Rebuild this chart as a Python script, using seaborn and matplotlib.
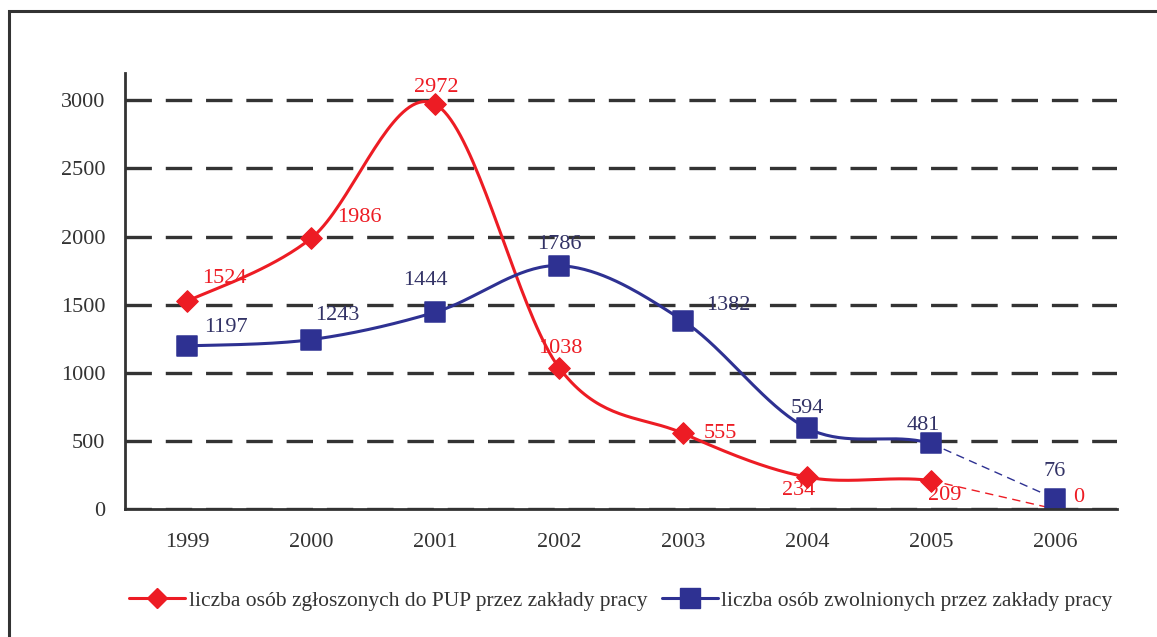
import matplotlib
matplotlib.use('Agg')
import matplotlib.pyplot as plt
from matplotlib.lines import Line2D
from matplotlib.patches import Rectangle
import seaborn as sns
import numpy as np

years = ['1999', '2000', '2001', '2002', '2003', '2004', '2005', '2006']
zgloszeni = [1524, 1986, 2972, 1038, 555, 234, 209, 0]
zwolnieni = [1197, 1243, 1444, 1786, 1382, 594, 481, 76]

label_zgl = 'liczba osób zgłoszonych do PUP przez zakłady pracy'
label_zwo = 'liczba osób zwolnionych przez zakłady pracy'

# label offsets in pixels (dx, dy) relative to each point
off_zgl = [(37, 23), (48, 21), (1, 17), (1, 19), (37, 0), (-8, -13), (14, -15), (24, 11)]
off_zwo = [(39, 18), (26, 24), (-10, 32), (0, 21), (45, 15), (0, 20), (-8, 18), (0, 27)]

RED = '#ED1C24'
BLUE = '#2E3192'
BLUE_TXT = '#333366'
DARK = '#333333'
FS = 16


def smooth(y, n=40):
    """Excel-like smoothed curve (Catmull-Rom style bezier)"""
    x = np.arange(len(y), dtype=float)
    y = np.asarray(y, dtype=float)
    xs, ys = [], []
    for i in range(len(y) - 1):
        i0 = max(i - 1, 0)
        i3 = min(i + 2, len(y) - 1)
        p0 = np.array([x[i], y[i]])
        p3 = np.array([x[i + 1], y[i + 1]])
        c1 = p0 + (np.array([x[i + 1], y[i + 1]]) - np.array([x[i0], y[i0]])) / 6
        c2 = p3 - (np.array([x[i3], y[i3]]) - np.array([x[i], y[i]])) / 6
        t = np.linspace(0, 1, n)[:, None]
        pts = (1 - t) ** 3 * p0 + 3 * (1 - t) ** 2 * t * c1 + 3 * (1 - t) * t ** 2 * c2 + t ** 3 * p3
        xs.append(pts[:, 0])
        ys.append(pts[:, 1])
    return np.concatenate(xs), np.concatenate(ys)


sns.set_style('white')
plt.rcParams['font.family'] = ['Liberation Serif', 'DejaVu Serif']
plt.rcParams['lines.scale_dashes'] = False

fig = plt.figure(figsize=(11.57, 6.37), dpi=100)
ax = fig.add_axes([125 / 1157, 1 - 509 / 637, (1117 - 125) / 1157, (509 - 73) / 637])

# outer frame
fig.patches.append(Rectangle((9 / 1157, -0.1), 1.2, 1.1 - 11 / 637, transform=fig.transFigure,
                             fill=False, edgecolor=DARK, linewidth=2.2, zorder=0))

xpos = np.arange(len(years))

# smoothed solid part (1999-2005), dashed last segment (2005-2006)
for vals, col in [(zgloszeni, RED), (zwolnieni, BLUE)]:
    sx, sy = smooth(vals)
    mask = sx <= 6 + 1e-9
    ax.plot(sx[mask], sy[mask], color=col, linewidth=2.2, zorder=3)
    ax.plot(xpos[-2:], vals[-2:], color=col, linewidth=1.0, linestyle=(0, (6, 4)), zorder=3)

sns.scatterplot(x=xpos, y=zgloszeni, marker='D', s=120, color=RED, edgecolor=RED, ax=ax, zorder=4)
sns.scatterplot(x=xpos, y=zwolnieni, marker='s', s=190, color=BLUE, edgecolor=BLUE, ax=ax, zorder=4)

for i in range(len(years)):
    ax.annotate(str(zgloszeni[i]), (xpos[i], zgloszeni[i]), xytext=off_zgl[i], textcoords='offset pixels',
                ha='center', va='center', fontsize=FS, color=RED, zorder=5)
    ax.annotate(str(zwolnieni[i]), (xpos[i], zwolnieni[i]), xytext=off_zwo[i], textcoords='offset pixels',
                ha='center', va='center', fontsize=FS, color=BLUE_TXT, zorder=5)

ax.set_xlim(-0.5, len(years) - 0.5)
ax.set_ylim(0, 3200)
ax.set_yticks(range(0, 3001, 500))
ax.set_xticks(np.arange(-0.5, len(years), 1.0))
ax.set_xticklabels([])
ax.set_xticks(xpos, minor=True)
ax.set_xticklabels(years, minor=True)
ax.tick_params(axis='x', which='major', direction='out', length=7, width=2, color=DARK)
ax.tick_params(axis='x', which='minor', length=0, pad=17, labelsize=FS, labelcolor=DARK)
ax.tick_params(axis='y', direction='out', length=7, width=2, color=DARK, labelsize=FS, labelcolor=DARK, pad=7)

ax.grid(axis='y', color=DARK, linewidth=2.4, linestyle=(0, (19, 10)))
ax.grid(axis='x', visible=False)
ax.set_axisbelow(True)
for side in ['top', 'right']:
    ax.spines[side].set_visible(False)
for side in ['left', 'bottom']:
    ax.spines[side].set_color(DARK)
    ax.spines[side].set_linewidth(2)
    ax.spines[side].set_zorder(5)

handles = [Line2D([], [], color=RED, linewidth=2.2, marker='D', markersize=10, label=label_zgl),
           Line2D([], [], color=BLUE, linewidth=2.2, marker='s', markersize=14, label=label_zwo)]
leg = ax.legend(handles=handles, loc='center', bbox_to_anchor=(0.5, -0.211), ncol=2, frameon=False,
                fontsize=15.5, handlelength=2.6, handletextpad=0.15, columnspacing=0.7, labelcolor=DARK)

fig.savefig('out.png', dpi=100)
plt.close()
